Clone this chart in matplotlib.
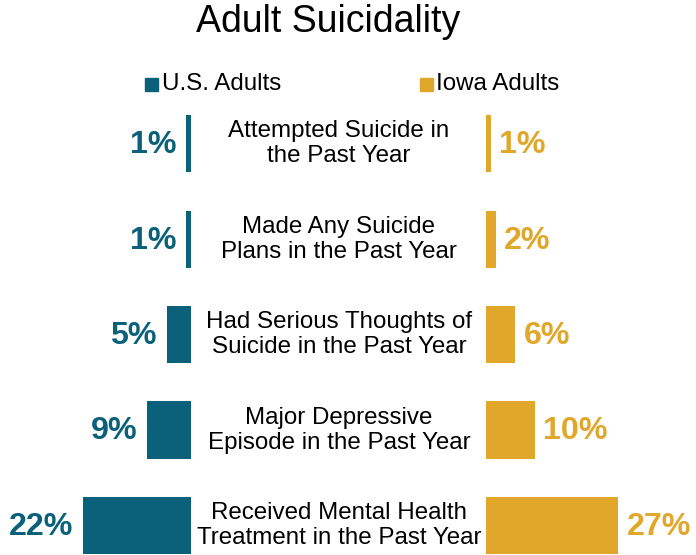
import matplotlib.pyplot as plt
import matplotlib.transforms as mtransforms
from matplotlib.patches import Rectangle

plt.rcParams['font.family'] = ['Liberation Sans', 'DejaVu Sans']

# ==========================================================
# Data
# ==========================================================

measures = [
    "Attempted Suicide in\nthe Past Year",
    "Made Any Suicide\nPlans in the Past Year",
    "Had Serious Thoughts of\nSuicide in the Past Year",
    "Major Depressive\nEpisode in the Past Year",
    "Received Mental Health\nTreatment in the Past Year",
]
us_adults = [1, 1, 5, 9, 22]
iowa_adults = [1, 2, 6, 10, 27]

US_COLOR = "#0A6179"
IOWA_COLOR = "#E1A72B"

W, H = 696, 555
fig = plt.figure(figsize=(W / 100, H / 100), dpi=100)

# pixel helpers (from top-left)
def fx(px):
    return px / W

def fy(py):
    return 1 - py / H

px_per_pct = 4.9
row_top = 96
ylim = ((H - 143.5) / 95.5, -0.5)

# left side (US), bars grow leftwards from x=191
left_edge = 191
ax_us = fig.add_axes([0, 0, fx(left_edge), (H - row_top) / H])
ax_us.set_xlim(left_edge / px_per_pct, 0)
ax_us.set_ylim(*ylim)
ax_us.axis("off")

# right side (Iowa), bars grow rightwards from x=486
right_edge = 486
ax_ia = fig.add_axes([fx(right_edge), 0, 1 - fx(right_edge), (H - row_top) / H])
ax_ia.set_xlim(0, (W - right_edge) / px_per_pct)
ax_ia.set_ylim(*ylim)
ax_ia.axis("off")

ypos = list(range(len(measures)))

ax_us.barh(ypos, us_adults, height=0.6, color=US_COLOR)
ax_ia.barh(ypos, iowa_adults, height=0.6, color=IOWA_COLOR)

for y, v in zip(ypos, us_adults):
    ax_us.annotate(f"{v}%", (v, y), xytext=(-7, -1), textcoords="offset points",
                   ha="right", va="center", fontsize=23.2, fontweight="bold",
                   color=US_COLOR)

for y, v in zip(ypos, iowa_adults):
    ax_ia.annotate(f"{v}%", (v, y), xytext=(6, -1), textcoords="offset points",
                   ha="left", va="center", fontsize=23.2, fontweight="bold",
                   color=IOWA_COLOR)

# category labels in the middle
trans = mtransforms.blended_transform_factory(fig.transFigure, ax_us.transData)
for y, label in zip(ypos, measures):
    fig.text(fx(339), y, label, transform=trans, ha="center", va="center",
             fontsize=17.4, linespacing=1.17, color="black")

# title
fig.text(fx(328), fy(22), "Adult Suicidality", ha="center", va="center",
         fontsize=27, color="black")

# legend
fig.patches.append(Rectangle((fx(145), fy(91)), fx(13), 13 / H,
                             transform=fig.transFigure, color=US_COLOR))
fig.text(fx(162), fy(84), "U.S. Adults", ha="left", va="center", fontsize=17.4)
fig.patches.append(Rectangle((fx(420), fy(91)), fx(13), 13 / H,
                             transform=fig.transFigure, color=IOWA_COLOR))
fig.text(fx(436), fy(84), "Iowa Adults", ha="left", va="center", fontsize=17.4)

plt.savefig("out.png", dpi=100)
plt.close()
